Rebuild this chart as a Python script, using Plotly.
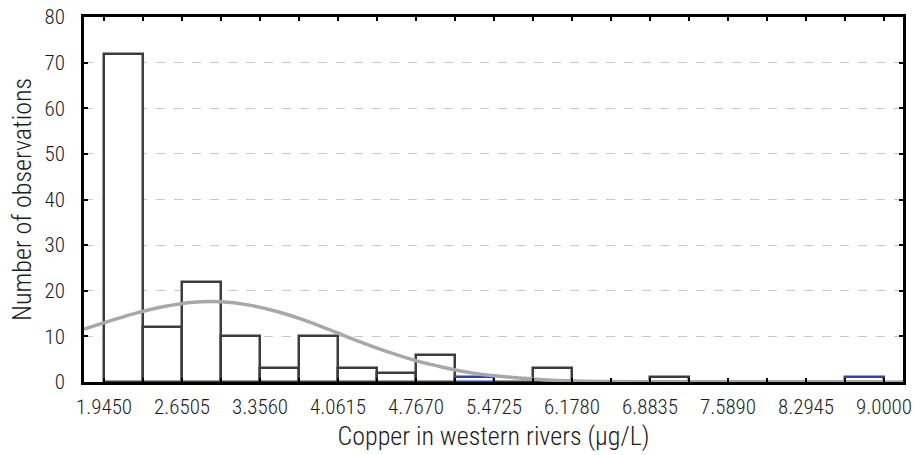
import plotly.graph_objects as go

# Histogram bins (left edges start at 1.9450, width 0.35275)
bin_start = 1.9450
bin_width = 0.35275
counts = [72, 12, 22, 10, 3, 10, 3, 2, 6, 1, 0, 3, 0, 0, 1, 0, 0, 0, 0, 1]
outline_colors = ["#3c3c3c"] * 20
outline_colors[9] = "#2f44a8"
outline_colors[19] = "#2f44a8"

# Fitted normal curve
curve_x = [1.764, 2.0, 2.25, 2.5, 2.75, 3.0, 3.25, 3.5, 3.75, 4.0, 4.25, 4.5, 4.75,
           5.0, 5.25, 5.5, 5.75, 6.0, 6.5, 7.0, 7.5, 8.0, 8.5, 9.0, 9.172]
curve_y = [11.6, 13.4, 15.2, 16.6, 17.5, 17.6, 16.9, 15.5, 13.6, 11.3, 8.9, 6.7, 4.8,
           3.3, 2.1, 1.3, 0.8, 0.4, 0.1, 0.02, 0.0, 0.0, 0.0, 0.0, 0.0]

tick_labels = ["1.9450", "2.6505", "3.3560", "4.0615", "4.7670", "5.4725",
               "6.1780", "6.8835", "7.5890", "8.2945", "9.0000"]
y_ticks = [0, 10, 20, 30, 40, 50, 60, 70, 80]

centers = [bin_start + bin_width * (i + 0.5) for i in range(len(counts))]
edges = [bin_start + bin_width * i for i in range(len(counts) + 1)]
edge_text = [tick_labels[i // 2] if i % 2 == 0 else "" for i in range(len(edges))]

FONT = "Roboto Condensed, Liberation Sans Narrow, sans-serif"
TXT = "#1c1c1c"
W = 300

fig = go.Figure()
fig.add_trace(go.Bar(
    x=centers, y=counts, width=bin_width,
    marker=dict(color="white", line=dict(color=outline_colors, width=2.5)),
    showlegend=False, hoverinfo="x+y",
))
fig.add_trace(go.Scatter(
    x=curve_x, y=curve_y, mode="lines", line=dict(color="#a8a8a8", width=3.5, shape="spline"),
    showlegend=False,
))

fig.update_layout(
    width=916, height=455,
    margin=dict(l=84, r=13, t=17, b=73),
    paper_bgcolor="white", plot_bgcolor="white",
    font=dict(family=FONT, color=TXT, size=20, weight=W),
    bargap=0,
)
fig.update_xaxes(
    range=[1.764, 9.172], automargin=False,
    tickmode="array", tickvals=edges, ticktext=edge_text,
    ticks="inside", ticklen=4, tickwidth=2, tickcolor="black",
    showline=True, linecolor="black", linewidth=2.5, mirror="ticks",
    showgrid=False, zeroline=False,
    tickfont=dict(size=21, family=FONT, color=TXT, weight=W),
    ticklabelstandoff=4,
    title=dict(text="Copper in western rivers (µg/L)", font=dict(size=26, family=FONT, color=TXT, weight=W), standoff=9),
)
fig.update_yaxes(
    range=[0, 80], automargin=False,
    tickmode="array", tickvals=y_ticks,
    ticks="inside", ticklen=4, tickwidth=2, tickcolor="black",
    showline=True, linecolor="black", linewidth=2.5, mirror="ticks",
    showgrid=True, gridcolor="#c8c8c8", griddash="dash", gridwidth=1,
    zeroline=False,
    tickfont=dict(size=21, family=FONT, color=TXT, weight=W),
    ticklabelstandoff=12,
    title=dict(text="Number of observations", font=dict(size=26, family=FONT, color=TXT, weight=W), standoff=6),
)

fig.write_html("out.html")
